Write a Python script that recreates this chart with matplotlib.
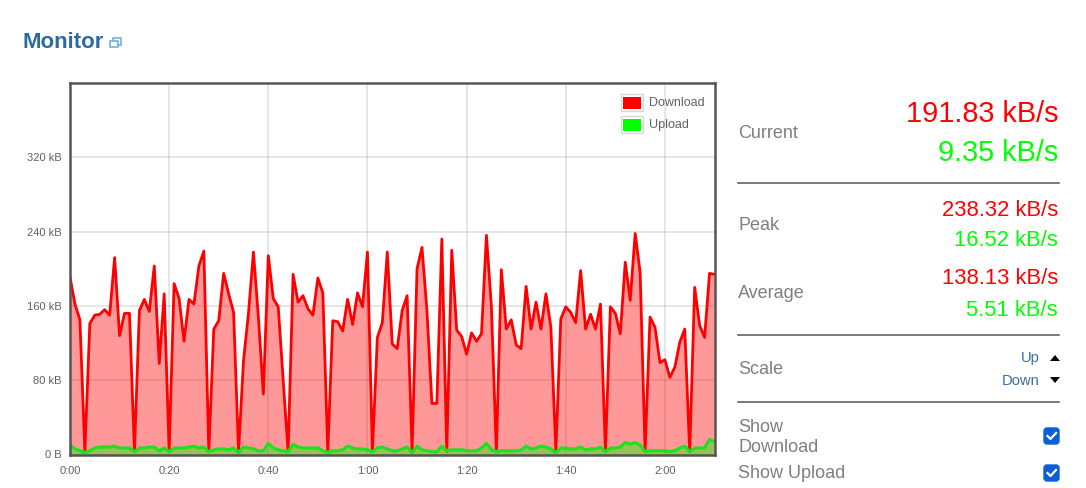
import matplotlib
matplotlib.use('Agg')
import matplotlib.pyplot as plt
from matplotlib.patches import FancyBboxPatch, Rectangle

plt.rcParams['font.family'] = ['Liberation Sans', 'DejaVu Sans']

# one value per minute, kB/s
download = [191, 162, 145, 3, 141, 150, 151, 156, 150, 212, 128, 152, 152, 3, 155, 167, 154, 203, 98, 173,
            3, 184, 168, 122, 167, 162, 203, 219, 3, 135, 144, 195, 173, 153, 3, 101, 152, 218, 148, 65,
            214, 168, 159, 80, 3, 194, 164, 171, 157, 150, 190, 174, 3, 144, 143, 133, 167, 140, 174, 159,
            218, 3, 126, 142, 218, 119, 114, 155, 171, 3, 200, 223, 155, 55, 55, 232, 3, 220, 134, 127,
            108, 131, 122, 130, 236, 159, 3, 199, 135, 145, 118, 114, 181, 135, 164, 135, 173, 137, 3, 146,
            159, 153, 142, 198, 135, 151, 135, 162, 3, 159, 152, 130, 207, 166, 238, 196, 3, 148, 137, 99,
            102, 83, 94, 121, 135, 3, 180, 139, 126, 195, 194]
upload = [10, 6, 4, 2, 4, 7, 8, 8, 8, 9, 7, 7, 7, 3, 7, 7, 8, 8, 4, 7,
          3, 7, 7, 7, 8, 9, 7, 8, 3, 5, 6, 6, 5, 7, 2, 8, 7, 6, 4, 4,
          12, 7, 5, 4, 3, 11, 8, 7, 7, 7, 7, 4, 2, 4, 4, 5, 9, 7, 6, 6,
          5, 3, 7, 8, 6, 4, 4, 6, 8, 2, 9, 5, 4, 3, 3, 9, 4, 5, 5, 5,
          4, 4, 4, 7, 12, 5, 3, 4, 4, 4, 4, 5, 9, 6, 7, 9, 8, 6, 2, 7,
          7, 6, 6, 8, 5, 6, 6, 8, 3, 7, 7, 8, 13, 11, 13, 10, 3, 4, 4, 4,
          4, 3, 4, 7, 9, 3, 7, 7, 7, 16, 14]
minutes = list(range(len(download)))

x_ticks = [0, 20, 40, 60, 80, 100, 120]
x_labels = ['0:00', '0:20', '0:40', '1:00', '1:20', '1:40', '2:00']
y_ticks = [0, 80, 160, 240, 320]
y_labels = ['0 B', '80 kB', '160 kB', '240 kB', '320 kB']

W, H = 1086, 488
RED = '#ff0000'
GREEN = '#00ff00'
GRAY = '#7f7f7f'
BLUE = '#3a6f9f'

fig = plt.figure(figsize=(W / 100, H / 100), dpi=100, facecolor='white')

# chart
ax = fig.add_axes([70 / W, 1 - 454.5 / H, 644.5 / W, 371.5 / H])
ax.set_xlim(0, 130)
ax.set_ylim(0, 400)
ax.fill_between(minutes, download, color=RED, alpha=0.4, lw=0, zorder=2)
ax.plot(minutes, download, color=RED, lw=2.0, zorder=3, solid_joinstyle='round')
ax.fill_between(minutes, upload, color=GREEN, alpha=0.4, lw=0, zorder=4)
ax.plot(minutes, upload, color='#1fe01f', lw=2.3, zorder=5, solid_joinstyle='round')
ax.set_xticks(x_ticks, x_labels)
ax.set_yticks(y_ticks, y_labels)
ax.tick_params(length=0, labelsize=8, labelcolor='#606060')
ax.tick_params(axis='x', pad=8)
ax.tick_params(axis='y', pad=6)
ax.grid(True, color='#000000', alpha=0.11, lw=1.3, zorder=1)
ax.set_axisbelow(True)
for s in ax.spines.values():
    s.set_color('#555555')
    s.set_linewidth(1.8)
    s.set_zorder(6)

# everything else drawn in pixel coordinates
ov = fig.add_axes([0, 0, 1, 1], zorder=10)
ov.set_xlim(0, W)
ov.set_ylim(H, 0)
ov.axis('off')

# legend
ov.add_patch(Rectangle((621, 94), 22, 17, fc='white', ec='#d8d8d8', lw=1))
ov.add_patch(Rectangle((623, 97), 18, 12, fc=RED, ec='none'))
ov.add_patch(Rectangle((621, 116), 22, 17, fc='white', ec='#d8d8d8', lw=1))
ov.add_patch(Rectangle((623, 119), 18, 12, fc=GREEN, ec='none'))
ov.text(649, 103, 'Download', fontsize=9, color='#606060', va='center')
ov.text(649, 125, 'Upload', fontsize=9, color='#606060', va='center')

# title and its icon
ov.text(23, 43, 'Monitor', fontsize=16, fontweight='bold', color='#2d6a9f', va='center')
ov.add_patch(Rectangle((113, 38), 8, 7, fc='white', ec='#6fa8d6', lw=1.1))
ov.add_patch(Rectangle((110, 41), 8, 6, fc='white', ec='#6fa8d6', lw=1.1))

# side panel
for name, y in [('Current', 133), ('Peak', 226), ('Average', 294), ('Scale', 370)]:
    ov.text(738, y, name, fontsize=13, color=GRAY, va='center')
ov.text(738, 427, 'Show', fontsize=13, color=GRAY, va='center')
ov.text(738, 448, 'Download', fontsize=13, color=GRAY, va='center')
ov.text(738, 474, 'Show Upload', fontsize=13, color=GRAY, va='center')

for txt, y, c, size in [('191.83 kB/s', 114, RED, 20.8), ('9.35 kB/s', 153, GREEN, 20.8),
                        ('238.32 kB/s', 210, RED, 15.8), ('16.52 kB/s', 241, GREEN, 15.8),
                        ('138.13 kB/s', 278, RED, 15.8), ('5.51 kB/s', 310, GREEN, 15.8)]:
    ov.text(1058, y, txt, fontsize=size, color=c, ha='right', va='center')

for y in [183, 335, 402]:
    ov.plot([738, 1059], [y, y], color='#555555', lw=1.1)

ov.text(1040, 358, 'Up', fontsize=10.6, color=BLUE, ha='right', va='center')
ov.text(1040, 381, 'Down', fontsize=10.6, color=BLUE, ha='right', va='center')
ov.fill([1050, 1060, 1055], [361, 361, 355], color='black', lw=0)
ov.fill([1050, 1060, 1055], [377, 377, 383], color='black', lw=0)

# checkboxes
for y in [428, 465]:
    ov.add_patch(FancyBboxPatch((1044, y), 15, 16, boxstyle='round,pad=0,rounding_size=3',
                                fc='#0b5ed7', ec='#0b5ed7', lw=1.0))
    ov.plot([1047.5, 1050.5, 1056], [y + 8, y + 11, y + 5], color='white', lw=1.6)

fig.savefig('out.png', dpi=100, facecolor='white')
